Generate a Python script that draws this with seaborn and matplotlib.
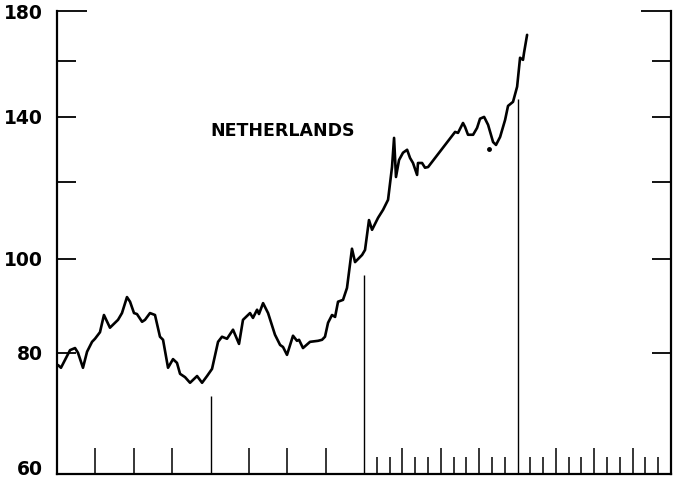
import numpy as np
import pandas as pd
import matplotlib
matplotlib.use("Agg")
import matplotlib.pyplot as plt
import matplotlib.transforms as mtransforms
import seaborn as sns

# Months since start of chart (4 years shown) and index level (log scale)
months = [0.08, 0.31, 1.02, 1.41, 1.64, 2.03, 2.35, 2.74, 2.97, 3.36, 3.67, 4.14,
          4.77, 5.08, 5.47, 5.71, 6.02, 6.25, 6.65, 6.88, 7.27, 7.66, 8.05, 8.29,
          8.68, 9.07, 9.38, 9.62, 10.01, 10.40, 10.95, 11.34, 11.73, 12.12, 12.59,
          12.90, 13.29, 13.76, 14.23, 14.54, 15.09, 15.32, 15.64, 15.79, 16.11,
          16.50, 17.04, 17.44, 17.67, 17.98, 18.45, 18.76, 18.92, 19.23, 19.78,
          20.41, 20.72, 20.95, 21.19, 21.50, 21.74, 21.97, 22.36, 22.67, 23.06,
          23.30, 23.85, 24.08, 24.39, 24.63, 25.10, 25.49, 25.88, 26.19, 26.35,
          26.50, 26.74, 27.05, 27.37, 27.60, 27.83, 28.15, 28.22, 28.54, 28.77,
          29.01, 31.12, 31.35, 31.74, 31.90, 32.13, 32.53, 32.84, 33.07, 33.39,
          33.70, 34.09, 34.32, 34.64, 35.03, 35.26, 35.65, 35.97, 36.20, 36.43,
          36.51, 36.75]
index_values = [77.7, 77.2, 80.5, 80.9, 80.0, 77.2, 80.2, 82.1, 82.7, 84.0, 87.5, 84.9,
                86.5, 87.9, 91.3, 90.3, 87.9, 87.7, 86.1, 86.5, 87.9, 87.5, 83.1, 82.5,
                77.2, 78.8, 78.1, 76.1, 75.5, 74.5, 75.7, 74.5, 75.7, 77.0, 82.1,
                83.1, 82.7, 84.5, 81.7, 86.5, 87.9, 86.9, 88.6, 87.7, 90.0,
                87.9, 83.5, 81.5, 81.1, 79.6, 83.3, 82.3, 82.5, 80.9, 82.1,
                82.3, 82.5, 83.1, 85.9, 87.5, 87.1, 90.3, 90.7, 93.3, 102.4,
                99.2, 100.9, 102.1, 109.6, 107.1, 110.2, 112.3, 115.0, 124.3, 133.2,
                121.4, 126.4, 128.6, 129.5, 127.0, 125.5, 122.0, 125.5, 125.5, 124.1,
                124.3, 135.1, 134.8, 138.0, 136.7, 134.2, 134.2, 136.4, 139.4, 140.0,
                137.4, 131.9, 131.0, 133.5, 139.0, 143.7, 145.1, 150.4, 161.1, 160.3,
                163.0, 170.1]
stray_month = [33.78]
stray_value = [129.8]

# year separators and how high they reach
year_marks = [12, 24, 36]
year_mark_tops = [72.2, 96.1, 146.1]

y_ticks = [60, 80, 100, 120, 140, 160, 180]
y_labels = ["60", "80", "100", "", "140", "", "180"]
quarter_ticks = [3, 6, 9, 15, 18, 21, 27, 30, 33, 39, 42, 45]
month_ticks = [25, 26, 28, 29, 31, 32, 34, 35, 37, 38, 40, 41, 43, 44, 46, 47]

label = "NETHERLANDS"

sns.set_style("white")
plt.rcParams['font.family'] = ['DejaVu Sans']

fig = plt.figure(figsize=(6.74, 4.79), dpi=100)
ax = fig.add_axes([57 / 674, 1 - 474 / 479, 614 / 674, 463 / 479])

df = pd.DataFrame({"month": months, "value": index_values})
sns.lineplot(data=df, x="month", y="value", ax=ax, color="black", linewidth=1.9,
             sort=False, estimator=None)
ax.plot(stray_month, stray_value, marker="o", markersize=2.5, color="black", linestyle="none")

ax.vlines(year_marks, 60, year_mark_tops, color="black", linewidth=1.0)

ax.set_yscale("log")
ax.set_xlim(0, 48)
ax.set_ylim(60, 180)
ax.yaxis.set_minor_locator(matplotlib.ticker.NullLocator())
ax.set_yticks(y_ticks)
ax.set_yticklabels(y_labels, fontsize=13.5, fontweight="bold", color="black")
ax.set_xticks(quarter_ticks)
ax.set_xticks(month_ticks, minor=True)
ax.set_xticklabels([])

ax.tick_params(axis="y", which="major", direction="in", length=13.7, width=1.3,
               left=True, right=True, pad=10, colors="black")
ax.tick_params(axis="x", which="major", direction="in", length=19, width=1.3,
               bottom=True, top=False)
ax.tick_params(axis="x", which="minor", direction="in", length=12, width=1.3,
               bottom=True, top=False)

# the 180 tick is drawn longer, like a stub of the frame
top_tick = ax.yaxis.get_major_ticks()[-1]
top_tick.tick1line.set_markersize(21.6)
top_tick.tick2line.set_markersize(21.6)

# lift the bottom label a little so it stays inside the figure
bottom_label = ax.get_yticklabels()[0]
bottom_label.set_transform(bottom_label.get_transform() +
                           mtransforms.ScaledTranslation(0, 5 / 72, fig.dpi_scale_trans))

for side in ["left", "right", "bottom"]:
    ax.spines[side].set_visible(True)
    ax.spines[side].set_color("black")
    ax.spines[side].set_linewidth(1.6)
ax.spines["top"].set_visible(False)

ax.set_xlabel("")
ax.set_ylabel("")
ax.text(12.0, 135.4, label, fontsize=12.5, fontweight="bold", color="black",
        ha="left", va="center")

fig.savefig("out.png", dpi=100)
